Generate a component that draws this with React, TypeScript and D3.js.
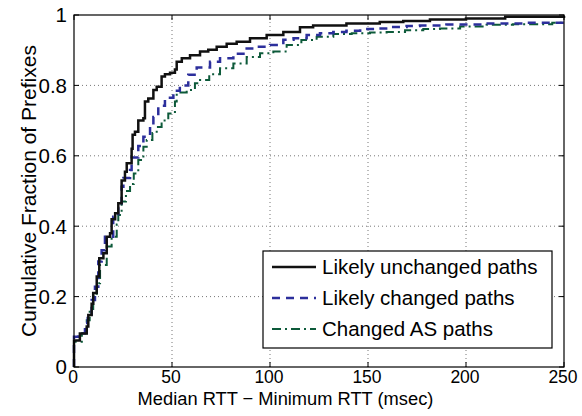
import React, { useEffect, useRef } from "react";
import * as d3 from "d3";

const xTicks = [0, 50, 100, 150, 200, 250];
const yTicks = [0, 0.2, 0.4, 0.6, 0.8, 1];
const yTickLabels = ["0", "0.2", "0.4", "0.6", "0.8", "1"];

const seriesNames = ["Likely unchanged paths", "Likely changed paths", "Changed AS paths"];

const unchangedX = [0, 0, 3, 6.5, 7.3, 9, 9.8, 11.6, 12.9, 15, 16.7, 18.4, 19.2, 21, 22.6, 24.3, 26, 26.9, 29.4, 29.9, 31.1, 32.8, 35.4, 36.2, 37.9, 40.5, 42.2, 44.7, 46.4, 49, 51.5, 52.4, 55, 59.2, 64.3, 68.5, 72.8, 77.9, 83, 89.8, 98.3, 106.8, 115.3, 122, 139, 156, 168, 181.6, 200, 220, 250];
const unchangedY = [0, 0.075, 0.095, 0.115, 0.148, 0.18, 0.21, 0.257, 0.309, 0.323, 0.37, 0.38, 0.42, 0.437, 0.465, 0.53, 0.555, 0.579, 0.62, 0.66, 0.668, 0.7, 0.707, 0.754, 0.763, 0.787, 0.796, 0.825, 0.832, 0.836, 0.845, 0.867, 0.877, 0.886, 0.896, 0.901, 0.91, 0.918, 0.924, 0.934, 0.943, 0.952, 0.965, 0.97, 0.976, 0.98, 0.983, 0.987, 0.99, 0.995, 0.997];

const changedX = [0, 0, 2.2, 5.6, 7, 9, 10.7, 12.4, 14.1, 15.8, 20, 22.6, 24.3, 25.2, 28.6, 29.4, 32.8, 35.4, 38.8, 40.5, 43, 46.4, 50.7, 54, 58.3, 62.6, 69.4, 74.5, 81.3, 88.1, 93.2, 100, 106.8, 112, 118.7, 125.5, 132.3, 139, 146, 154.4, 161.2, 169.7, 176.5, 190, 210, 230, 250];
const changedY = [0, 0.086, 0.096, 0.125, 0.15, 0.19, 0.228, 0.3, 0.332, 0.37, 0.427, 0.465, 0.512, 0.537, 0.56, 0.595, 0.628, 0.654, 0.682, 0.71, 0.742, 0.765, 0.785, 0.8, 0.83, 0.851, 0.867, 0.877, 0.89, 0.905, 0.91, 0.915, 0.93, 0.934, 0.943, 0.948, 0.952, 0.955, 0.96, 0.962, 0.966, 0.969, 0.97, 0.973, 0.976, 0.978, 0.98];

const asPathX = [0, 0, 4, 6.5, 8, 9.8, 11.6, 13.3, 16.7, 19.2, 21.8, 22.6, 24.3, 26.5, 28.6, 30.5, 32.8, 35.4, 37.1, 40, 42.2, 44.7, 48.1, 51.5, 52.4, 57.5, 61.7, 64.3, 69, 74.5, 81.3, 88.1, 94.9, 101.7, 108.5, 116, 123.8, 132.3, 141.7, 151, 159.5, 168.9, 178.2, 186.7, 197, 210.5, 224, 244, 250];
const asPathY = [0, 0.072, 0.096, 0.133, 0.165, 0.2, 0.238, 0.29, 0.342, 0.37, 0.405, 0.432, 0.47, 0.5, 0.52, 0.55, 0.588, 0.626, 0.645, 0.665, 0.682, 0.7, 0.72, 0.754, 0.78, 0.787, 0.806, 0.815, 0.832, 0.849, 0.862, 0.881, 0.891, 0.896, 0.915, 0.929, 0.938, 0.946, 0.948, 0.95, 0.952, 0.957, 0.96, 0.962, 0.967, 0.972, 0.974, 0.978, 0.978];

const W = 582;
const H = 416;
const margin = { left: 74, top: 15, right: 18, bottom: 49 };
const FONT = "'Liberation Sans', Arial, sans-serif";

export default function App() {
  const ref = useRef<SVGSVGElement | null>(null);

  useEffect(() => {
    const svg = d3.select(ref.current);
    svg.selectAll("*").remove();
    const x = d3.scaleLinear().domain([0, 250]).range([margin.left, W - margin.right]);
    const y = d3.scaleLinear().domain([0, 1]).range([H - margin.bottom, margin.top]);
    const x0 = margin.left, x1 = W - margin.right, y0 = H - margin.bottom, y1 = margin.top;

    svg.append("rect").attr("x", 0).attr("y", 0).attr("width", W).attr("height", H).attr("fill", "white");

    const grid = svg.append("g");
    xTicks.slice(1, -1).forEach((t) => {
      grid.append("line").attr("x1", x(t)).attr("x2", x(t)).attr("y1", y0).attr("y2", y1)
        .attr("stroke", "#777").attr("stroke-width", 1).attr("stroke-dasharray", "1,3");
    });
    yTicks.slice(1, -1).forEach((t) => {
      grid.append("line").attr("x1", x0).attr("x2", x1).attr("y1", y(t)).attr("y2", y(t))
        .attr("stroke", "#777").attr("stroke-width", 1).attr("stroke-dasharray", "1,3");
    });

    const tl = 5;
    const ticks = svg.append("g").attr("stroke", "#000").attr("stroke-width", 1);
    xTicks.forEach((t) => {
      ticks.append("line").attr("x1", x(t)).attr("x2", x(t)).attr("y1", y0).attr("y2", y0 - tl);
      ticks.append("line").attr("x1", x(t)).attr("x2", x(t)).attr("y1", y1).attr("y2", y1 + tl);
    });
    yTicks.forEach((t) => {
      ticks.append("line").attr("x1", x0).attr("x2", x0 + tl).attr("y1", y(t)).attr("y2", y(t));
      ticks.append("line").attr("x1", x1).attr("x2", x1 - tl).attr("y1", y(t)).attr("y2", y(t));
    });

    const line = d3.line<[number, number]>().x((d) => x(d[0])).y((d) => y(d[1])).curve(d3.curveStepAfter);
    const mk = (xs: number[], ys: number[]) => xs.map((v, i) => [v, ys[i]] as [number, number]);

    const styles = [
      { data: mk(asPathX, asPathY), color: "#0d5a3a", width: 2, dash: "9,4,2,4" },
      { data: mk(changedX, changedY), color: "#2c2f9c", width: 2.5, dash: "8,6" },
      { data: mk(unchangedX, unchangedY), color: "#111", width: 2.5, dash: null },
    ];
    const plot = svg.append("g");
    styles.forEach((s) => {
      const p = plot.append("path").attr("d", line(s.data) as string).attr("fill", "none")
        .attr("stroke", s.color).attr("stroke-width", s.width);
      if (s.dash) p.attr("stroke-dasharray", s.dash);
    });

    svg.append("rect").attr("x", x0).attr("y", y1).attr("width", x1 - x0).attr("height", y0 - y1)
      .attr("fill", "none").attr("stroke", "#000").attr("stroke-width", 1.2);

    const labels = svg.append("g").attr("font-family", FONT).attr("fill", "#000");
    xTicks.forEach((t) => {
      labels.append("text").attr("x", x(t) - 1).attr("y", 383).attr("text-anchor", "middle")
        .attr("font-size", 17.5).text(String(t));
    });
    yTicks.forEach((t, i) => {
      labels.append("text").attr("x", 67).attr("y", y(t)).attr("dy", "0.36em").attr("text-anchor", "end")
        .attr("font-size", 20.5).text(yTickLabels[i]);
    });
    labels.append("text").attr("x", 285.5).attr("y", 405).attr("text-anchor", "middle")
      .attr("font-size", 18.3).text("Median RTT \u2212 Minimum RTT (msec)");
    labels.append("text").attr("transform", `translate(36,${(y0 + y1) / 2}) rotate(-90)`)
      .attr("text-anchor", "middle").attr("font-size", 21).text("Cumulative Fraction of Prefixes");

    const lg = svg.append("g");
    lg.append("rect").attr("x", 263).attr("y", 251).attr("width", 289).attr("height", 97)
      .attr("fill", "white").attr("stroke", "#000").attr("stroke-width", 1.2);
    const legendStyles = [styles[2], styles[1], styles[0]];
    const rowsY = [267, 298, 329];
    legendStyles.forEach((s, i) => {
      const l = lg.append("line").attr("x1", 272).attr("x2", 316).attr("y1", rowsY[i]).attr("y2", rowsY[i])
        .attr("stroke", s.color).attr("stroke-width", s.width);
      if (s.dash) l.attr("stroke-dasharray", s.dash);
      lg.append("text").attr("x", 322).attr("y", rowsY[i]).attr("dy", "0.36em")
        .attr("font-family", FONT).attr("font-size", 20.5).text(seriesNames[i]);
    });
  }, []);

  return (
    <svg ref={ref} width={W} height={H} style={{ position: "absolute", left: 0, top: 0, display: "block" }} />
  );
}
